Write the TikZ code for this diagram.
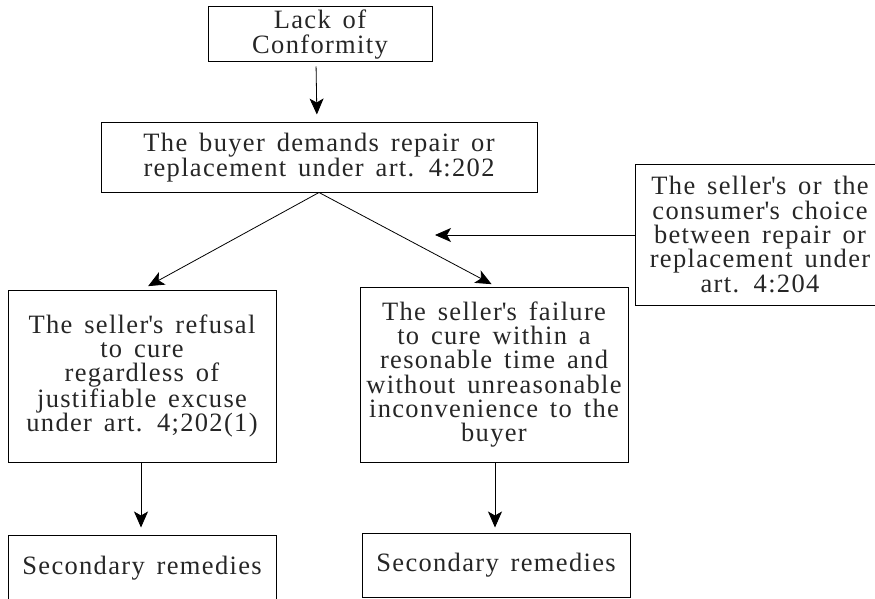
\documentclass[tikz,border=0pt]{standalone}
\usepackage{fontspec}
\setmainfont{Liberation Serif}[LetterSpace=5,WordSpace=1.5]
\usetikzlibrary{arrows.meta}
\newcommand{\apos}{\textquotesingle}

\tikzset{
    box/.style={draw, line width=1pt, align=center, inner sep=0pt,
        font=\fontsize{26.5}{24.3}\selectfont, text=black!85},
    arr/.style={-{Stealth[length=16pt,width=14pt,inset=4pt]}, line width=0.8pt}
}

\begin{document}
\begin{tikzpicture}[x=1pt,y=-1pt]
    \clip (0,0) rectangle (875,599);

    % top of the chart
    \node[box, minimum width=224pt, minimum height=55pt] (conf) at (320,34.5)
        {Lack of\\Conformity};
    \node[box, minimum width=436pt, minimum height=69pt] (demand) at (319,157.5)
        {The buyer demands repair or\\replacement under art. 4:202};
    \node[box, minimum width=250pt, minimum height=141pt] (choice) at (760,234.5)
        {The seller\apos s or the\\consumer\apos s choice\\between repair or\\replacement under\\art. 4:204};

    % the two branches
    \node[box, minimum width=268pt, minimum height=172pt] (refusal) at (142,376)
        {The seller\apos s refusal\\to cure\\regardless of\\justifiable excuse\\under art. 4;202(1)};
    \node[box, minimum width=268pt, minimum height=175pt] (failure) at (494,374.5)
        {The seller\apos s failure\\to cure within a\\resonable time and\\without unreasonable\\inconvenience to the\\buyer};

    \node[box, minimum width=268pt, minimum height=66pt] (secA) at (142,568)
        {Secondary remedies};
    \node[box, minimum width=268pt, minimum height=64pt] (secB) at (496,565)
        {Secondary remedies};

    \coordinate (hit) at (435,235);

    % connectors
    \draw[arr, shorten <=4pt, shorten >=8pt] ([xshift=-4pt]conf.south) -- ([xshift=-3pt]conf.south |- demand.north);
    \draw[arr, shorten >=7pt] (demand.south) -- (refusal.north);
    \draw[arr, shorten >=5pt] (demand.south) -- ([xshift=2pt]failure.north);
    \draw[arr] (choice.west |- hit) -- (hit);
    \draw[arr, shorten >=7pt] ([xshift=-1pt]refusal.south) -- ([xshift=-1pt]refusal.south |- secA.north);
    \draw[arr, shorten >=5pt] ([xshift=1pt]failure.south) -- ([xshift=1pt]failure.south |- secB.north);
\end{tikzpicture}
\end{document}
